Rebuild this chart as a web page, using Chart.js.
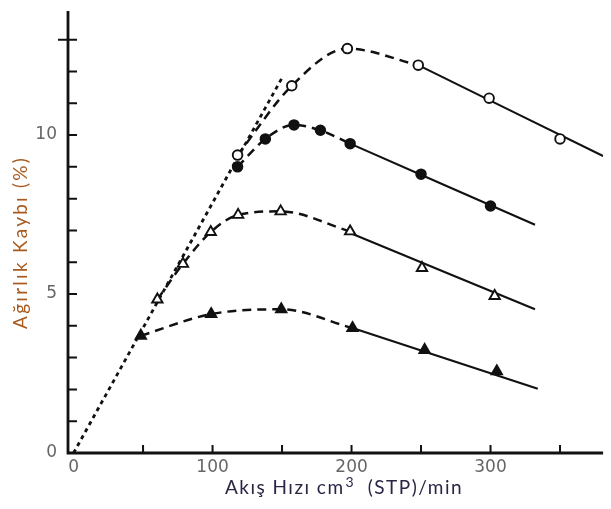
<!DOCTYPE html>
<html>
<head>
<meta charset="utf-8">
<script src="https://cdn.jsdelivr.net/npm/chart.js@4"></script>
<style>
  html, body { margin: 0; padding: 0; background: #fff; }
  #wrap { width: 611px; height: 509px; }
</style>
</head>
<body>
<div id="wrap"><canvas id="chart" width="611" height="509"></canvas></div>
<script>
'use strict';

// open circles
const openCircX = [118, 157, 197, 248, 299, 350];
const openCircY = [9.37, 11.55, 12.72, 12.2, 11.16, 9.88];
// filled circles
const fillCircX = [118, 138, 158.6, 177.6, 199, 250, 300];
const fillCircY = [9.0, 9.88, 10.32, 10.15, 9.73, 8.77, 7.77];
// open triangles
const openTriX = [60.3, 78.7, 98.7, 118.4, 149, 199, 250.7, 303];
const openTriY = [4.83, 5.95, 6.95, 7.49, 7.6, 6.97, 5.82, 4.94];
// filled triangles
const fillTriX = [48.4, 99, 149.4, 200.7, 252.6, 304.5];
const fillTriY = [3.69, 4.37, 4.52, 3.93, 3.24, 2.57];

// straight fitted lines (start, end)
const openCircFitX = [248, 381];
const openCircFitY = [12.2, 9.34];
const fillCircFitX = [199, 332];
const fillCircFitY = [9.73, 7.18];
const openTriFitX = [199, 332];
const openTriFitY = [6.92, 4.52];
const fillTriFitX = [200.7, 334];
const fillTriFitY = [3.93, 2.02];
// initial dotted line
const initX = [0, 150];
const initY = [0, 11.8];

// how many points of each series sit on the dashed curve
const openCircCurveN = 4;
const fillCircCurveN = 5;
const openTriCurveN = 6;
const fillTriCurveN = 4;

const xTicks = [50, 100, 150, 200, 250, 300, 350];
const xLabels = [0, 100, 200, 300];
const yTicks = [1, 2, 3, 4, 5, 6, 7, 8, 9, 10, 11, 12, 13];
const yLabels = [0, 5, 10];
const xTitle = ['Akış Hızı cm', '3', '  (STP)/min'];
const yTitle = 'Ağırlık Kaybı (%)';

const ink = '#111';

function pts(xs, ys, n) {
    const out = xs.map((x, i) => ({x: x, y: ys[i]}));
    return n ? out.slice(0, n) : out;
}

function curve(data, dash, width) {
    return {
        data: data, borderColor: ink, borderWidth: width, borderDash: dash,
        pointRadius: 0, cubicInterpolationMode: 'monotone', fill: false, order: 2
    };
}

function marks(data, style, filled, r) {
    return {
        data: data, showLine: false, pointStyle: style, pointRadius: r,
        pointBackgroundColor: filled ? ink : '#fff', pointBorderColor: ink,
        pointBorderWidth: 1.9, order: 1
    };
}

function spacingFor(ctx, text, target) {
    ctx.letterSpacing = '0px';
    const w = ctx.measureText(text).width;
    return Math.max(0, (target - w) / text.length);
}

// axes, inward ticks, labels and titles
const framePlugin = {
    id: 'frame',
    afterDatasetsDraw(chart) {
        const {ctx, scales: {x, y}} = chart;
        const x0 = x.left;
        const yb = y.getPixelForValue(0);
        ctx.save();
        ctx.strokeStyle = ink;
        ctx.lineWidth = 2.8;
        ctx.beginPath();
        ctx.moveTo(x0, y.getPixelForValue(13.9));
        ctx.lineTo(x0, yb);
        ctx.lineTo(x.right, yb);
        ctx.stroke();

        ctx.lineWidth = 2;
        ctx.beginPath();
        yTicks.forEach(v => {
            const p = y.getPixelForValue(v);
            ctx.moveTo(x0 - (v === 13 ? 10 : 0), p);
            ctx.lineTo(x0 + 9, p);
        });
        xTicks.forEach(v => {
            const p = x.getPixelForValue(v);
            ctx.moveTo(p, yb);
            ctx.lineTo(p, yb - 8);
        });
        ctx.stroke();

        ctx.fillStyle = '#666';
        ctx.font = '17px "DejaVu Sans"';
        ctx.textBaseline = 'middle';
        ctx.textAlign = 'right';
        yLabels.forEach(v => ctx.fillText(String(v), x0 - 11, y.getPixelForValue(v)));
        ctx.textAlign = 'center';
        xLabels.forEach(v => ctx.fillText(String(v), x.getPixelForValue(v), yb + 15));

        // y title
        ctx.save();
        ctx.fillStyle = '#a95b1f';
        ctx.font = '19px Lato';
        const sp = spacingFor(ctx, yTitle, 173);
        ctx.letterSpacing = sp + 'px';
        ctx.translate(21, 243.5);
        ctx.rotate(-Math.PI / 2);
        ctx.textAlign = 'center';
        ctx.fillText(yTitle, sp / 2, 0);
        ctx.restore();

        // x title with superscript
        ctx.fillStyle = '#2a2545';
        ctx.textAlign = 'left';
        ctx.letterSpacing = '0px';
        ctx.font = '19px Lato';
        const w1 = ctx.measureText(xTitle[0]).width;
        const w3 = ctx.measureText(xTitle[2]).width;
        ctx.font = '14px Lato';
        const w2 = ctx.measureText(xTitle[1]).width;
        const nChars = xTitle.join('').length;
        const sx = Math.max(0, (237 - w1 - w2 - w3) / nChars);
        ctx.letterSpacing = sx + 'px';
        let cx = 343.5 - 237 / 2;
        const cy = 488;
        ctx.font = '19px Lato';
        ctx.fillText(xTitle[0], cx, cy);
        cx += w1 + sx * xTitle[0].length;
        ctx.font = '14px Lato';
        ctx.fillText(xTitle[1], cx + 1, cy - 6);
        cx += w2 + sx * xTitle[1].length + 1;
        ctx.font = '19px Lato';
        ctx.fillText(xTitle[2], cx, cy);
        ctx.restore();
    }
};

const ctx = document.getElementById('chart').getContext('2d');
const chart = new Chart(ctx, {
    type: 'line',
    data: {
        datasets: [
            marks(pts(openCircX, openCircY), 'circle', false, 4.8),
            marks(pts(fillCircX, fillCircY), 'circle', true, 4.8),
            marks(pts(openTriX, openTriY), 'triangle', false, 6),
            marks(pts(fillTriX, fillTriY), 'triangle', true, 6),
            curve(pts(initX, initY), [4, 4], 2.8),
            curve(pts(openCircX, openCircY, openCircCurveN), [9, 6], 2.5),
            curve(pts(fillCircX, fillCircY, fillCircCurveN), [9, 6], 2.5),
            curve(pts(openTriX, openTriY, openTriCurveN), [9, 6], 2.5),
            curve(pts(fillTriX, fillTriY, fillTriCurveN), [9, 6], 2.5),
            curve(pts(openCircFitX, openCircFitY), [], 2.1),
            curve(pts(fillCircFitX, fillCircFitY), [], 2.1),
            curve(pts(openTriFitX, openTriFitY), [], 2.1),
            curve(pts(fillTriFitX, fillTriFitY), [], 2.1)
        ]
    },
    options: {
        responsive: false,
        animation: false,
        devicePixelRatio: 1,
        layout: {padding: {left: 68, right: 0, top: 5, bottom: 56}},
        scales: {
            x: {type: 'linear', min: -4, max: 381, display: false},
            y: {type: 'linear', min: 0, max: 14, display: false}
        },
        plugins: {legend: {display: false}, tooltip: {enabled: false}}
    },
    plugins: [framePlugin]
});
</script>
</body>
</html>
